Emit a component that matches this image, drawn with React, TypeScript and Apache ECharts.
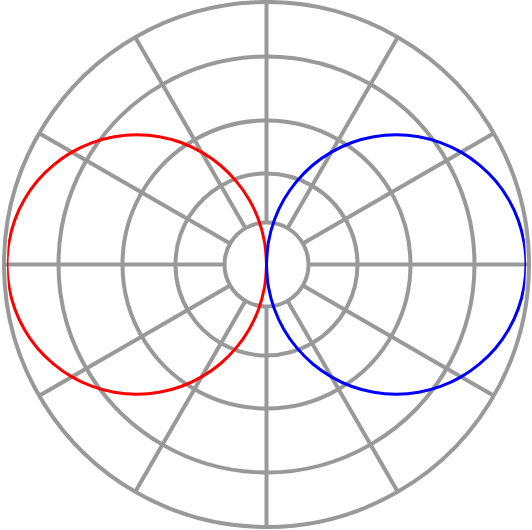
import React, { useEffect, useRef } from 'react';
import * as echarts from 'echarts';

// Angles (degrees, counter-clockwise from east) and radii of the two curves
const blueAngles = [
  -90, -85, -80, -75, -70, -65, -60, -55, -50, -45, -40, -35, -30, -25, -20, -15, -10, -5, 0,
  5, 10, 15, 20, 25, 30, 35, 40, 45, 50, 55, 60, 65, 70, 75, 80, 85, 90,
];
const redAngles = [
  90, 95, 100, 105, 110, 115, 120, 125, 130, 135, 140, 145, 150, 155, 160, 165, 170, 175, 180,
  185, 190, 195, 200, 205, 210, 215, 220, 225, 230, 235, 240, 245, 250, 255, 260, 265, 270,
];
const curveRadii = [
  0, 0.087, 0.174, 0.259, 0.342, 0.423, 0.5, 0.574, 0.643, 0.707, 0.766, 0.819, 0.866, 0.906, 0.94, 0.966, 0.985, 0.996, 1,
  0.996, 0.985, 0.966, 0.94, 0.906, 0.866, 0.819, 0.766, 0.707, 0.643, 0.574, 0.5, 0.423, 0.342, 0.259, 0.174, 0.087, 0,
];
const spokeStep = 30;

const GRAY = '#999999';
const CX = 266.5;
const CY = 264.5;

export default function App() {
  const ref = useRef<HTMLDivElement>(null);
  useEffect(() => {
    if (!ref.current) return;
    const chart = echarts.init(ref.current, null, { renderer: 'svg' });
    const gridLine = { color: GRAY, width: 4 };
    const ringPolars = [91, 144, 208];
    const polar: any[] = [
      { center: [CX, CY], radius: [42, 262.5] },
      ...ringPolars.map((r) => ({ center: [CX, CY], radius: [0, r] })),
      { center: [CX, CY], radius: [0, 259.5] },
    ];
    const angleAxis: any[] = [
      {
        polarIndex: 0,
        type: 'value',
        min: 0,
        max: 360,
        interval: spokeStep,
        startAngle: 0,
        clockwise: false,
        axisLine: { show: true, lineStyle: gridLine },
        axisTick: { show: false },
        axisLabel: { show: false },
        splitLine: { show: true, lineStyle: gridLine },
      },
      ...ringPolars.map((_, i) => ({
        polarIndex: i + 1,
        type: 'value',
        min: 0,
        max: 360,
        axisLine: { show: true, lineStyle: gridLine },
        axisTick: { show: false },
        axisLabel: { show: false },
        splitLine: { show: false },
      })),
      {
        polarIndex: 4,
        type: 'value',
        min: -90,
        max: 270,
        startAngle: -90,
        clockwise: false,
        show: false,
      },
    ];
    const radiusAxis: any[] = polar.map((_, i) => ({
      polarIndex: i,
      type: 'value',
      min: 0,
      max: 1,
      show: false,
    }));
    chart.setOption({
      animation: false,
      backgroundColor: '#ffffff',
      polar,
      angleAxis,
      radiusAxis,
      series: [
        {
          type: 'line',
          coordinateSystem: 'polar',
          polarIndex: 4,
          data: curveRadii.map((r, i) => [r, redAngles[i]]),
          smooth: 0.335,
          showSymbol: false,
          symbol: 'none',
          clip: false,
          lineStyle: { color: '#ff0000', width: 3 },
        },
        {
          type: 'line',
          coordinateSystem: 'polar',
          polarIndex: 4,
          data: curveRadii.map((r, i) => [r, blueAngles[i]]),
          smooth: 0.335,
          showSymbol: false,
          symbol: 'none',
          clip: false,
          lineStyle: { color: '#0000ff', width: 3 },
        },
      ],
    });
    return () => chart.dispose();
  }, []);
  return (
    <div
      ref={ref}
      style={{ position: 'absolute', left: 0, top: 0, width: 532, height: 530, background: '#fff' }}
    />
  );
}
